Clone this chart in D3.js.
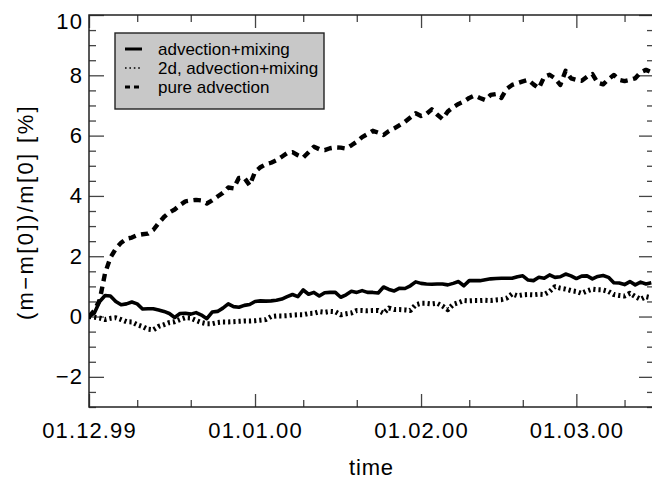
<!DOCTYPE html>
<html>
<head>
<meta charset="utf-8">
<script src="https://cdn.jsdelivr.net/npm/d3@7"></script>
<style>
  html, body { margin: 0; padding: 0; background: #fff; }
  svg { display: block; }
  text { font-family: "Liberation Sans", Arial, Helvetica, sans-serif; fill: #000; }
</style>
</head>
<body>
<svg id="chart" width="652" height="485"></svg>
<script>
// Daily relative mass change (%) starting 1 Dec 1999
const startDay = "1999-12-01";

const advMix = [
  0.0, 0.12, 0.5, 0.7, 0.68, 0.5, 0.39, 0.42, 0.48, 0.42,
  0.25, 0.26, 0.26, 0.22, 0.17, 0.1, -0.03, 0.1, 0.11, 0.08,
  0.13, 0.05, -0.07, 0.15, 0.17, 0.28, 0.42, 0.33, 0.31, 0.37,
  0.4, 0.5, 0.52, 0.51, 0.52, 0.54, 0.58, 0.66, 0.73, 0.66,
  0.88, 0.74, 0.8, 0.68, 0.79, 0.8, 0.8, 0.64, 0.72, 0.84,
  0.8, 0.86, 0.8, 0.8, 0.78, 0.98, 0.9, 0.85, 0.94, 0.93,
  1.02, 1.15, 1.1, 1.08, 1.07, 1.08, 1.08, 1.05, 1.1, 1.16,
  1.02, 1.19, 1.19, 1.19, 1.22, 1.25, 1.26, 1.27, 1.27, 1.27,
  1.32, 1.35, 1.21, 1.19, 1.3, 1.27, 1.38, 1.3, 1.32, 1.41,
  1.35, 1.26, 1.34, 1.35, 1.25, 1.33, 1.36, 1.3, 1.12, 1.11,
  1.06, 1.16, 1.05, 1.14, 1.08, 1.12
];

const adv2d = [
  0.0, -0.02, -0.05, -0.1, -0.06, -0.04, -0.1, -0.17, -0.18, -0.27,
  -0.33, -0.42, -0.44, -0.33, -0.27, -0.2, -0.17, -0.1, -0.04, -0.05,
  -0.13, -0.2, -0.24, -0.24, -0.2, -0.18, -0.18, -0.17, -0.16, -0.15,
  -0.15, -0.14, -0.12, -0.1, 0.0, 0.02, 0.02, 0.03, 0.05, 0.06,
  0.06, 0.1, 0.11, 0.16, 0.14, 0.17, 0.16, 0.06, 0.09, 0.12,
  0.2, 0.2, 0.19, 0.2, 0.2, 0.11, 0.28, 0.23, 0.23, 0.22,
  0.2, 0.39, 0.44, 0.44, 0.42, 0.44, 0.35, 0.23, 0.4, 0.46,
  0.53, 0.52, 0.53, 0.53, 0.54, 0.53, 0.55, 0.56, 0.61, 0.75,
  0.69, 0.72, 0.73, 0.72, 0.74, 0.73, 0.83, 0.99, 0.94, 0.91,
  0.86, 0.83, 0.77, 0.85, 0.91, 0.89, 0.88, 0.83, 0.73, 0.7,
  0.68, 0.77, 0.66, 0.57, 0.66, 0.62
];

const pureAdv = [
  0.0, 0.2, 0.55, 1.44, 1.95, 2.25, 2.45, 2.58, 2.62, 2.7,
  2.73, 2.75, 2.87, 3.1, 3.3, 3.45, 3.55, 3.7, 3.82, 3.85,
  3.87, 3.85, 3.75, 3.85, 3.98, 4.1, 4.28, 4.25, 4.6, 4.6,
  4.35, 4.8, 4.95, 5.05, 5.1, 5.18, 5.3, 5.42, 5.45, 5.35,
  5.27, 5.45, 5.63, 5.55, 5.52, 5.58, 5.61, 5.6, 5.57, 5.68,
  5.8, 5.95, 6.05, 6.16, 6.1, 6.02, 6.15, 6.24, 6.35, 6.46,
  6.6, 6.74, 6.65, 6.72, 6.87, 6.7, 6.55, 6.8, 6.94, 7.05,
  7.13, 7.25, 7.33, 7.25, 7.18, 7.35, 7.38, 7.25, 7.55, 7.68,
  7.74, 7.8, 7.85, 7.7, 7.57, 7.95, 8.02, 7.9, 7.68, 8.15,
  7.9, 7.85, 7.82, 7.95, 8.04, 7.75, 7.7, 7.87, 8.01, 7.85,
  7.81, 7.85, 7.9, 8.1, 8.18, 8.1
];

const seriesNames = ["advection+mixing", "2d, advection+mixing", "pure advection"];
const xMajorTicks = ["1999-12-01", "2000-01-01", "2000-02-01", "2000-03-01"];
const yMajorTicks = [-2, 0, 2, 4, 6, 8, 10];
const yTitle = "(m\u2212m[0])/m[0] [%]";
const xTitle = "time";

const svg = d3.select("#chart");
const L = 89, R = 654, T = 15, B = 407;

const parse = d3.utcParse("%Y-%m-%d");
const t0 = parse(startDay);
const dates = advMix.map((_, i) => d3.utcDay.offset(t0, i));

const x = d3.scaleUtc()
  .domain([t0, d3.utcHour.offset(t0, 105.5 * 24)])
  .range([L, R]);
const y = d3.scaleLinear().domain([-3, 10]).range([B, T]);

const fmt = d3.utcFormat("%d.%m.%y");
const majorDates = xMajorTicks.map(parse);
const minorDates = d3.utcDay.range(x.domain()[0], x.domain()[1])
  .filter(d => d.getUTCDate() === 10 || d.getUTCDate() === 20);
const yMinor = d3.range(-3, 10.01, 0.5).filter(v => v % 2 !== 0);

const tickColor = "#444";

function styleAxis(g) {
  g.select(".domain").remove();
  g.selectAll(".tick line").attr("stroke", tickColor).attr("stroke-width", 1.3);
  g.selectAll(".tick text").style("font-size", "22px").style("letter-spacing", "1.1px").attr("fill", "#000");
}

// bottom axis: major + minor, ticks pointing inward
svg.append("g").attr("transform", `translate(0,${B})`)
  .call(d3.axisBottom(x).tickValues(majorDates).tickFormat(fmt).tickSize(-13).tickPadding(15))
  .call(styleAxis);
svg.append("g").attr("transform", `translate(0,${B})`)
  .call(d3.axisBottom(x).tickValues(minorDates).tickFormat("").tickSize(-7))
  .call(styleAxis);
// top axis
svg.append("g").attr("transform", `translate(0,${T})`)
  .call(d3.axisTop(x).tickValues(majorDates).tickFormat("").tickSize(-13))
  .call(styleAxis);
svg.append("g").attr("transform", `translate(0,${T})`)
  .call(d3.axisTop(x).tickValues(minorDates).tickFormat("").tickSize(-7))
  .call(styleAxis);

// left axis
const yAxisG = svg.append("g").attr("transform", `translate(${L},0)`)
  .call(d3.axisLeft(y).tickValues(yMajorTicks).tickSize(-15).tickPadding(6))
  .call(styleAxis);
yAxisG.selectAll(".tick text").filter(d => d === 10).attr("dy", "0.6em");
svg.append("g").attr("transform", `translate(${L},0)`)
  .call(d3.axisLeft(y).tickValues(yMinor).tickFormat("").tickSize(-7))
  .call(styleAxis);
// right axis
svg.append("g").attr("transform", `translate(${R},0)`)
  .call(d3.axisRight(y).tickValues(yMajorTicks).tickFormat("").tickSize(-15))
  .call(styleAxis);
svg.append("g").attr("transform", `translate(${R},0)`)
  .call(d3.axisRight(y).tickValues(yMinor).tickFormat("").tickSize(-7))
  .call(styleAxis);

// frame
svg.append("rect")
  .attr("x", L).attr("y", T).attr("width", R - L).attr("height", B - T)
  .attr("fill", "none").attr("stroke", "#222").attr("stroke-width", 1.5);

// clip for data lines
svg.append("clipPath").attr("id", "plotclip")
  .append("rect").attr("x", L).attr("y", T).attr("width", R - L).attr("height", B - T);

const line = d3.line().x((d, i) => x(dates[i])).y(d => y(d));

const styles = [
  { data: advMix, width: 3.6, dash: null },
  { data: adv2d, width: 5, dash: "2.2,3" },
  { data: pureAdv, width: 4.4, dash: "7.5,5.5" }
];

const plot = svg.append("g").attr("clip-path", "url(#plotclip)");
styles.forEach(s => {
  plot.append("path")
    .attr("d", line(s.data))
    .attr("fill", "none")
    .attr("stroke", "#000")
    .attr("stroke-width", s.width)
    .attr("stroke-linejoin", "round")
    .attr("stroke-dasharray", s.dash);
});

// legend
const lg = svg.append("g");
lg.append("rect")
  .attr("x", 115).attr("y", 33).attr("width", 209).attr("height", 76)
  .attr("fill", "#c8c8c8").attr("stroke", "#222").attr("stroke-width", 1.4);
const legendStyles = [
  { width: 3, dash: null },
  { width: 1.6, dash: "1.6,2.8" },
  { width: 3.2, dash: "5,4" }
];
seriesNames.forEach((name, i) => {
  const ly = 49 + i * 19;
  lg.append("line")
    .attr("x1", 125).attr("x2", 142).attr("y1", ly).attr("y2", ly)
    .attr("stroke", "#000").attr("stroke-width", legendStyles[i].width)
    .attr("stroke-dasharray", legendStyles[i].dash);
  lg.append("text")
    .attr("x", 158).attr("y", ly + 6)
    .style("font-size", "17px")
    .text(name);
});

// axis titles
svg.append("text")
  .attr("transform", `translate(33,212) rotate(-90)`)
  .attr("text-anchor", "middle")
  .style("font-size", "22px")
  .style("letter-spacing", "2.4px")
  .text(yTitle);
svg.append("text")
  .attr("x", (L + R) / 2).attr("y", 475)
  .attr("text-anchor", "middle")
  .style("font-size", "22px")
  .style("letter-spacing", "0.8px")
  .text(xTitle);
</script>
</body>
</html>
